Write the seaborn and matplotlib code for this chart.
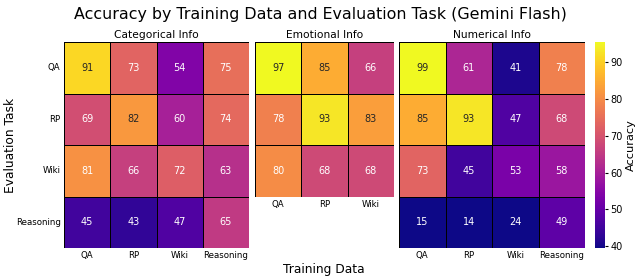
import numpy as np
import pandas as pd
import seaborn as sns
import matplotlib.pyplot as plt

#################### Data ####################

train_4 = ['QA', 'RP', 'Wiki', 'Reasoning']
train_3 = ['QA', 'RP', 'Wiki']
eval_4 = ['QA', 'RP', 'Wiki', 'Reasoning']
eval_3 = ['QA', 'RP', 'Wiki']

categorical = [[91, 73, 54, 75],
               [69, 82, 60, 74],
               [81, 66, 72, 63],
               [45, 43, 47, 65]]

emotional = [[97, 85, 66],
             [78, 93, 83],
             [80, 68, 68]]

numerical = [[99, 61, 41, 78],
             [85, 93, 47, 68],
             [73, 45, 53, 58],
             [15, 14, 24, 49]]

df_cat = pd.DataFrame(categorical, index=eval_4, columns=train_4)
df_emo = pd.DataFrame(emotional, index=eval_3, columns=train_3)
df_num = pd.DataFrame(numerical, index=eval_4, columns=train_4)

vmin, vmax = 39.5, 95.5

#################### Figure ####################

W, H = 640, 276
fig = plt.figure(figsize=(W / 100, H / 100), dpi=100)

def box(x0, y0, x1, y1):
    return [x0 / W, 1 - y1 / H, (x1 - x0) / W, (y1 - y0) / H]

ax1 = fig.add_axes(box(64, 42, 249, 248))
ax2 = fig.add_axes(box(255, 42, 394, 197))
ax3 = fig.add_axes(box(399, 42, 585, 248))
cax = fig.add_axes(box(595, 42, 605, 248))

common = dict(annot=True, fmt='d', cmap='plasma', vmin=vmin, vmax=vmax,
              linewidths=0.5, linecolor='black', annot_kws={'size': 7})

sns.heatmap(df_cat, ax=ax1, cbar=False, **common)
sns.heatmap(df_emo, ax=ax2, cbar=False, **common)
sns.heatmap(df_num, ax=ax3, cbar=True, cbar_ax=cax, **common)

for ax, title in zip([ax1, ax2, ax3], ['Categorical Info', 'Emotional Info', 'Numerical Info']):
    ax.set_title(title, fontsize=7.7, pad=3)
    ax.tick_params(axis='both', length=0, labelsize=6.2, pad=2.5)
    ax.set_xticklabels(ax.get_xticklabels(), rotation=0)
    ax.set_xlabel('')
    ax.set_ylabel('')

ax1.set_yticklabels(ax1.get_yticklabels(), rotation=0)
ax2.set_yticks([])
ax3.set_yticks([])

cbar = ax3.collections[0].colorbar
cbar.set_ticks([40, 50, 60, 70, 80, 90])
cbar.ax.tick_params(labelsize=7, length=2.5, pad=1.5)
cbar.set_label('Accuracy', fontsize=8.2, labelpad=2)
cbar.outline.set_visible(False)

fig.text(11 / W, 1 - 145 / H, 'Evaluation Task', rotation=90, ha='center', va='center', fontsize=8.8)
fig.text(324 / W, 1 - 270 / H, 'Training Data', ha='center', va='center', fontsize=8.8)
fig.text(320 / W, 1 - 14 / H, 'Accuracy by Training Data and Evaluation Task (Gemini Flash)',
         ha='center', va='center', fontsize=11.4)

plt.savefig('out.png', dpi=100)
